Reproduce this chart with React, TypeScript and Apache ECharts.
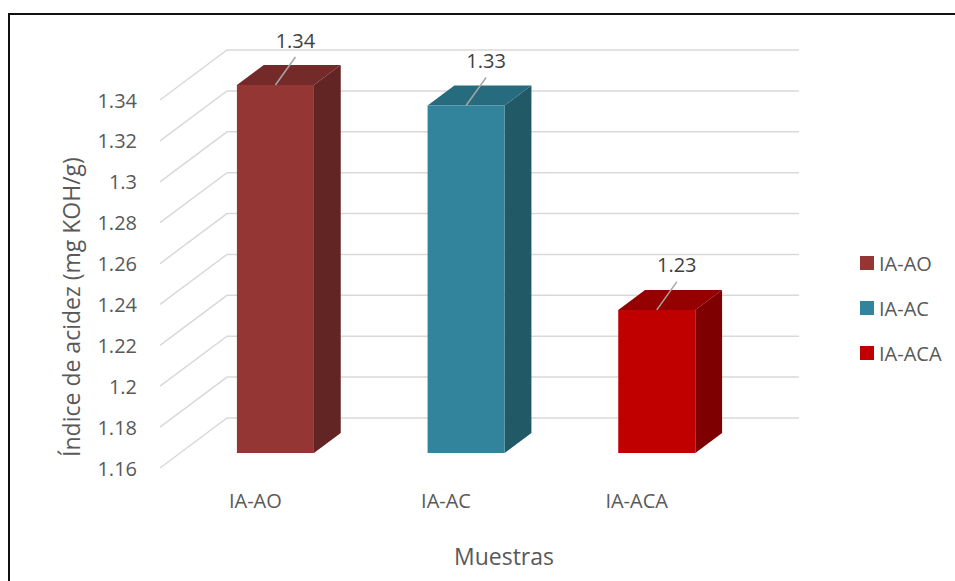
import React, { useEffect, useRef } from "react";
import * as echarts from "echarts";

// Samples and their acid index (mg KOH/g)
const categories = ["IA-AO", "IA-AC", "IA-ACA"];
const values = [1.34, 1.33, 1.23];
const yTicks = [1.16, 1.18, 1.2, 1.22, 1.24, 1.26, 1.28, 1.3, 1.32, 1.34];

// Face colours for each bar: front, side, top
const frontColors = ["#943634", "#31849B", "#C00000"];
const sideColors = ["#632523", "#215967", "#7F0000"];
const topColors = ["#742a28", "#266b7e", "#950000"];

// Oblique projection: full depth of the chart floor, and where the bars sit in it
const DEPTH_X = 67;
const DEPTH_Y = -50;
const BAR_FRONT = 0.3;
const BAR_BACK = 0.7;
const BAR_HALF = 0.202; // fraction of category band width

const FONT = "'Open Sans', 'Liberation Sans', sans-serif";
const TEXT = "#595959";
const GRID = "#d9d9d9";

export default function App() {
  const ref = useRef<HTMLDivElement>(null);

  useEffect(() => {
    if (!ref.current) return;
    const chart = echarts.init(ref.current, undefined, { renderer: "svg" });

    const wallSeries = {
      type: "custom",
      name: "walls",
      silent: true,
      clip: false,
      z: 1,
      encode: { x: 0, y: 1 },
      data: yTicks.map((v) => [0, v]),
      renderItem: (params: any, api: any) => {
        const cs = params.coordSys;
        const y = api.coord([0, api.value(1)])[1];
        const x0 = cs.x;
        return {
          type: "polyline",
          shape: {
            points: [
              [x0, y],
              [x0 + DEPTH_X, y + DEPTH_Y],
              [x0 + cs.width + DEPTH_X, y + DEPTH_Y],
            ],
          },
          style: { stroke: GRID, lineWidth: 1.5, fill: null },
        };
      },
    };

    const barSeries = categories.map((name, i) => ({
      type: "custom",
      name,
      clip: false,
      z: 2,
      itemStyle: { color: frontColors[i] },
      encode: { x: 0, y: 1 },
      data: [[i, values[i]]],
      renderItem: (params: any, api: any) => {
        const idx = api.value(0);
        const v = api.value(1);
        const top = api.coord([idx, v]);
        const bottomY = api.coord([idx, yTicks[0]])[1];
        const band = api.size([1, 0])[0];
        const xl = top[0] - band * BAR_HALF;
        const xr = top[0] + band * BAR_HALF;
        const yt = top[1];
        const fx = DEPTH_X * BAR_FRONT;
        const fy = DEPTH_Y * BAR_FRONT;
        const bx = DEPTH_X * BAR_BACK;
        const by = DEPTH_Y * BAR_BACK;
        const lx = top[0] + fx;
        const ly = yt + fy;
        return {
          type: "group",
          children: [
            {
              type: "polygon",
              shape: {
                points: [
                  [xr + fx, yt + fy],
                  [xr + bx, yt + by],
                  [xr + bx, bottomY + by],
                  [xr + fx, bottomY + fy],
                ],
              },
              style: { fill: sideColors[i] },
            },
            {
              type: "polygon",
              shape: {
                points: [
                  [xl + fx, yt + fy],
                  [xl + bx, yt + by],
                  [xr + bx, yt + by],
                  [xr + fx, yt + fy],
                ],
              },
              style: { fill: topColors[i] },
            },
            {
              type: "rect",
              shape: { x: xl + fx, y: yt + fy, width: xr - xl, height: bottomY - yt },
              style: { fill: frontColors[i] },
            },
            {
              type: "line",
              shape: { x1: lx, y1: ly, x2: lx + 20, y2: ly - 28 },
              style: { stroke: "#a6a6a6", lineWidth: 1.5 },
            },
            {
              type: "text",
              x: lx + 20,
              y: ly - 45,
              style: {
                text: v.toFixed(2),
                fill: "#404040",
                fontSize: 20,
                fontFamily: FONT,
                align: "center",
                verticalAlign: "middle",
              },
            },
          ],
        };
      },
    }));

    chart.setOption({
      animation: false,
      backgroundColor: "#ffffff",
      grid: { left: 160, right: 223, top: 100, bottom: 113, containLabel: false },
      legend: {
        orient: "vertical",
        left: 855,
        top: 248,
        data: categories,
        icon: "rect",
        itemWidth: 14,
        itemHeight: 14,
        itemGap: 25,
        selectedMode: false,
        textStyle: { color: TEXT, fontSize: 20, fontFamily: FONT, lineHeight: 20 },
      },
      xAxis: {
        type: "category",
        data: categories,
        axisLine: { show: false },
        axisTick: { show: false },
        splitLine: { show: false },
        axisLabel: { color: TEXT, fontSize: 20, fontFamily: FONT, margin: 22 },
      },
      yAxis: {
        type: "value",
        min: yTicks[0],
        max: yTicks[yTicks.length - 1],
        interval: 0.02,
        axisLine: { show: false },
        axisTick: { show: false },
        splitLine: { show: false },
        axisLabel: {
          color: TEXT,
          fontSize: 20,
          fontFamily: FONT,
          margin: 23,
          formatter: (v: number) => String(parseFloat(v.toFixed(2))),
        },
      },
      graphic: [
        {
          type: "rect",
          shape: { x: 9, y: 14, width: 1000, height: 620 },
          style: { fill: null, stroke: "#111111", lineWidth: 2 },
          silent: true,
        },
        {
          type: "text",
          x: 71,
          y: 307,
          rotation: Math.PI / 2,
          style: {
            text: "Índice de acidez (mg KOH/g)",
            fill: TEXT,
            fontSize: 23,
            fontFamily: FONT,
            align: "center",
            verticalAlign: "middle",
          },
        },
        {
          type: "text",
          x: 504,
          y: 556,
          style: {
            text: "Muestras",
            fill: TEXT,
            fontSize: 23,
            fontFamily: FONT,
            align: "center",
            verticalAlign: "middle",
          },
        },
      ],
      series: [wallSeries, ...barSeries],
    });

    return () => chart.dispose();
  }, []);

  return (
    <div
      ref={ref}
      style={{ position: "fixed", left: 0, top: 0, width: 955, height: 581, background: "#fff" }}
    />
  );
}
